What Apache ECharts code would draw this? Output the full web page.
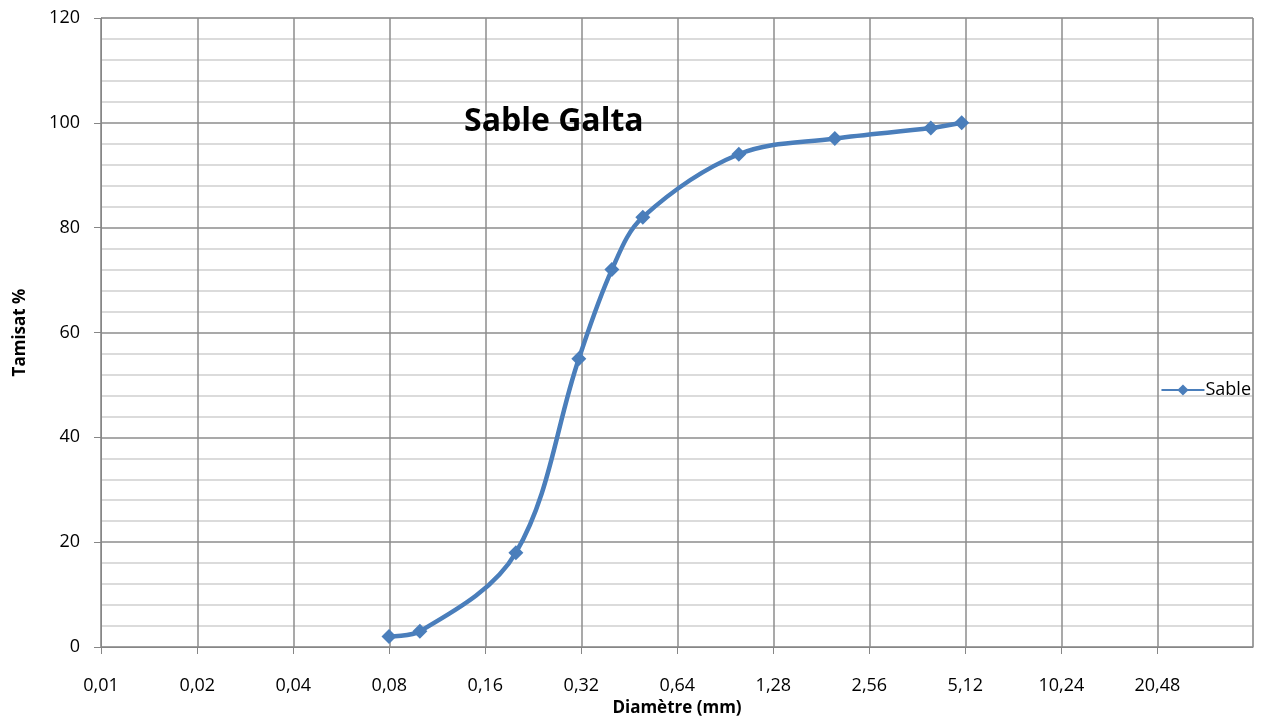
<!DOCTYPE html>
<html lang="fr">
<head>
    <meta charset="UTF-8">
    <title>Sable Galta</title>
    <script src="https://cdn.jsdelivr.net/npm/echarts@6/dist/echarts.min.js"></script>
    <style>
        html, body { margin: 0; padding: 0; background: #fff; }
        #chart { width: 1261px; height: 718px; }
    </style>
</head>
<body>
    <div id="chart"></div>
    <script>
        // diamètres des tamis (mm) et tamisat cumulé (%)
        var diametres = [0.08, 0.1, 0.2, 0.315, 0.4, 0.5, 1, 2, 4, 5];
        var tamisat = [2, 3, 18, 55, 72, 82, 94, 97, 99, 100];
        var xMin = 0.01, xMax = 40.96;
        var yTicks = [0, 20, 40, 60, 80, 100, 120];

        var font = '"Open Sans", sans-serif';
        var chart = echarts.init(document.getElementById('chart'));

        chart.setOption({
            animation: false,
            title: {
                text: 'Sable Galta',
                left: 459, top: 101,
                textStyle: { fontFamily: font, fontSize: 32, fontWeight: 'bold', color: '#000' }
            },
            legend: {
                data: ['Sable'],
                right: 5, top: 376,
                itemWidth: 43, itemHeight: 14, itemGap: 2,
                textStyle: { fontFamily: font, fontSize: 18, color: '#000', padding: [0, 0, 0, -4] }
            },
            grid: {
                left: 101, right: 8, top: 18, bottom: 71,
                outerBoundsMode: 'none',
                show: true, borderColor: '#b8b8b8', borderWidth: 1
            },
            xAxis: {
                type: 'log', logBase: 2,
                min: xMin, max: xMax, interval: 1,
                name: 'Diamètre (mm)', nameLocation: 'middle', nameGap: 50,
                nameTextStyle: { fontFamily: font, fontSize: 17, fontWeight: 'bold', color: '#000' },
                axisLine: { lineStyle: { color: '#868686', width: 1 } },
                axisTick: { show: true, length: 7, lineStyle: { color: '#868686' } },
                axisLabel: {
                    fontFamily: font, fontSize: 18, color: '#000', margin: 30,
                    showMaxLabel: false,
                    formatter: function (v) {
                        // ramène la graduation sur 0,01 x 2^k
                        var k = Math.round(Math.log(v / xMin) / Math.LN2);
                        var d = Math.round(xMin * Math.pow(2, k) * 100) / 100;
                        return String(d).replace('.', ',');
                    }
                },
                splitLine: { show: true, lineStyle: { color: '#8c8c8c', width: 1.5 } }
            },
            yAxis: {
                type: 'value', min: yTicks[0], max: yTicks[yTicks.length - 1], interval: 20,
                name: 'Tamisat %', nameLocation: 'middle', nameGap: 72,
                nameTextStyle: { fontFamily: font, fontSize: 17, fontWeight: 'bold', color: '#000' },
                axisLine: { show: true, lineStyle: { color: '#868686', width: 1 } },
                axisTick: { show: true, length: 7, lineStyle: { color: '#868686' } },
                axisLabel: { fontFamily: font, fontSize: 18, color: '#000', margin: 21 },
                splitLine: { lineStyle: { color: '#8c8c8c', width: 1.5 } },
                minorTick: { show: false, splitNumber: 5 },
                minorSplitLine: { show: true, lineStyle: { color: '#cfcfcf', width: 1.5 } }
            },
            series: [{
                name: 'Sable',
                type: 'line',
                smooth: 0.35,
                data: diametres.map(function (d, i) { return [d, tamisat[i]]; }),
                symbol: 'diamond', symbolSize: 15,
                itemStyle: { color: '#4a7ebb' },
                lineStyle: { color: '#4a7ebb', width: 4.5 }
            }]
        });
    </script>
</body>
</html>
